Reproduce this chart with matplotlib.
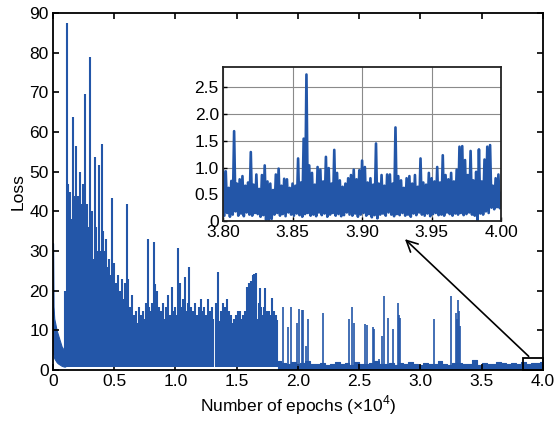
import numpy as np
import matplotlib.pyplot as plt
from matplotlib.patches import Rectangle

plt.rcParams['font.family'] = ['Liberation Sans', 'DejaVu Sans']
plt.rcParams['mathtext.fontset'] = 'custom'
plt.rcParams['mathtext.rm'] = 'Liberation Sans'

blue = '#2356a8'

# first 1000 epochs: fast decay
init_epochs = [0, 40, 100, 200, 300, 400, 500, 600, 700, 800, 900, 1000]
init_hi = [32, 16, 13, 11.5, 10, 9, 8, 7, 6, 5.5, 5, 4.5]
init_lo = [9, 4, 3, 2.5, 2, 1.7, 1.5, 1.3, 1.1, 1.0, 0.9, 0.9]

# unstable phase, peak of each burst
dense_epochs = [1000, 1120, 1200, 1300, 1400, 1500, 1630, 1700, 1850, 1950,
                2050, 2200, 2300, 2450, 2530, 2610, 2700, 2800, 2900, 2990,
                3100, 3200, 3300, 3430, 3550, 3650, 3730, 3850, 4000, 4100,
                4200, 4330, 4450, 4550, 4650, 4790, 4900, 5000, 5150, 5300,
                5450, 5600, 5750, 5900, 6010, 6150, 6300, 6450, 6600, 6750,
                6900, 7050, 7200, 7350, 7500, 7600, 7720, 7850, 8000, 8100,
                8210, 8350, 8500, 8650, 8800, 8950, 9100, 9250, 9400, 9550,
                9700, 9850, 10000, 10100, 10230, 10400, 10550, 10650, 10770, 10900,
                11000, 11130, 11300, 11450, 11600, 11750, 11900, 12050, 12200, 12350,
                12500, 12650, 12800, 12950, 13100, 13300, 13440, 13600, 13750, 13900,
                14050, 14200, 14350, 14500, 14650, 14800, 14950, 15100, 15250, 15400,
                15550, 15700, 15850, 16000, 16150, 16300, 16450, 16570, 16700, 16800,
                16900, 17000, 17100, 17200, 17300, 17450, 17600, 17750, 17900, 18050,
                18200, 18300]
dense_peaks = [20, 87.5, 47, 35, 45, 38, 63.7, 44, 56.5, 40,
               44, 50, 42, 47, 38, 69.7, 35, 42, 36, 79,
               33, 40, 28, 53.8, 36, 30, 51.6, 30, 57, 35,
               30, 33, 26, 28, 24, 43.5, 25, 27, 22, 24,
               20, 23, 18, 22, 42, 23, 16, 19, 14, 15,
               12, 16, 14, 15, 13, 17, 33, 16, 15, 17,
               32.3, 21.8, 20, 16, 15, 17, 13, 16, 18.9, 14,
               21, 15, 16, 14, 30.7, 22, 16, 18, 23.5, 15,
               17, 26, 16, 15, 17, 14, 16, 18, 15, 16,
               14, 18, 15, 16, 13, 17, 24.8, 12.5, 15, 17,
               16, 17.9, 15, 14, 12, 13, 14, 15, 15, 13,
               14, 15, 21, 22, 22.5, 24, 24.3, 24.5, 13, 17,
               20.6, 16, 14, 16, 20.6, 15, 15, 14, 18.1, 15,
               14, 12.6]
dense_floor = 0.9

# converged phase: noise band
base_epochs = np.arange(18400, 40001, 400)
base_hi = [2.2, 1.8, 1.6, 2.0, 1.5, 1.7, 2.3, 1.6, 1.5, 1.9,
           1.4, 1.6, 2.0, 1.5, 1.7, 1.4, 2.1, 1.6, 1.5, 1.8,
           2.4, 1.5, 1.6, 1.9, 1.4, 1.7, 1.5, 2.0, 1.6, 1.4,
           1.8, 1.5, 1.6, 2.2, 1.5, 1.4, 1.7, 1.9, 1.5, 1.6,
           2.5, 1.4, 1.8, 1.6, 1.5, 2.0, 1.7, 1.5, 1.9, 1.6,
           2.1, 1.5, 1.8, 1.7, 2.0]
base_lo = 0.3

# isolated spikes after convergence
sparse_epochs = [18740, 19200, 19470, 19880, 20100, 20290, 20430, 20650, 20800, 22080,
                 24180, 24450, 24550, 25470, 25600, 26130, 26200, 26600, 26900, 27020,
                 27350, 27770, 28180, 28280, 28370, 31120, 32530, 32940, 32990, 33080,
                 33150, 33210]
sparse_peaks = [16.0, 10.9, 16.0, 11.8, 15.5, 15.1, 15.1, 6.0, 12.8, 14.4,
                13.0, 15.8, 12.0, 11.7, 11.3, 10.8, 10.3, 2.9, 8.6, 18.7,
                13.1, 10.4, 16.8, 14.0, 13.2, 12.8, 18.7, 14.3, 13.0, 17.6,
                15.0, 11.0]

# zoom 38000-40000: local maxima every 20 epochs and minima in between
inset_peaks = [0.95, 0.93, 0.62, 0.75, 1.68, 0.70, 0.78, 0.84, 0.66, 0.72,
               1.29, 0.68, 0.87, 0.60, 0.86, 1.04, 0.74, 0.70, 0.58, 0.87,
               0.98, 0.66, 0.79, 0.78, 0.62, 0.70, 0.66, 1.17, 0.72, 1.54,
               2.74, 1.04, 0.90, 0.68, 1.01, 0.96, 0.74, 1.20, 0.99, 0.70,
               1.33, 0.90, 0.76, 0.64, 0.70, 0.80, 0.86, 0.96, 0.78, 0.95,
               1.13, 1.01, 0.72, 0.80, 0.68, 1.45, 0.70, 0.86, 0.66, 0.87,
               0.87, 0.70, 1.75, 0.84, 0.76, 0.62, 0.80, 0.84, 0.70, 0.86,
               0.64, 1.17, 0.72, 0.68, 0.90, 0.80, 0.74, 1.01, 0.72, 1.23,
               0.86, 0.78, 0.90, 0.74, 0.96, 1.39, 1.40, 1.14, 0.86, 1.31,
               0.76, 0.92, 1.34, 0.74, 1.15, 1.39, 1.42, 0.66, 0.80, 0.87,
               0.52]
inset_troughs = [0.10, 0.15, 0.08, 0.12, 0.18, 0.10, 0.14, 0.09, 0.16, 0.12,
                 0.10, 0.15, 0.13, 0.08, 0.11, 0.02, 0.00, 0.04, 0.12, 0.15,
                 0.10, 0.13, 0.09, 0.16, 0.12, 0.10, 0.14, 0.11, 0.08, 0.13,
                 0.15, 0.10, 0.12, 0.09, 0.16, 0.11, 0.14, 0.08, 0.12, 0.15,
                 0.10, 0.13, 0.09, 0.11, 0.16, 0.12, 0.10, 0.14, 0.08, 0.12,
                 0.15, 0.10, 0.13, 0.07, 0.11, 0.05, 0.12, 0.14, 0.10, 0.16,
                 0.12, 0.09, 0.13, 0.11, 0.15, 0.10, 0.12, 0.08, 0.14, 0.11,
                 0.16, 0.12, 0.10, 0.14, 0.09, 0.13, 0.15, 0.11, 0.12, 0.10,
                 0.16, 0.13, 0.10, 0.14, 0.12, 0.15, 0.11, 0.13, 0.16, 0.12,
                 0.10, 0.00, 0.14, 0.12, 0.18, 0.15, 0.25, 0.22, 0.26, 0.24]
inset_epochs = np.arange(38000, 40001, 10)
inset_loss = np.empty(len(inset_epochs))
inset_loss[0::2] = inset_peaks
inset_loss[1::2] = inset_troughs

fs = 12.5

fig = plt.figure(figsize=(5.58, 4.23), dpi=100)
ax = fig.add_axes([0.095, 0.125, 0.878, 0.844])

ax.fill_between(np.array(init_epochs) / 1e4, init_lo, init_hi, color=blue, lw=0.8, edgecolor=blue)
ax.vlines(np.array(dense_epochs) / 1e4, dense_floor, dense_peaks, color=blue, lw=1.5)
ax.fill_between(base_epochs / 1e4, base_lo, base_hi, step='mid', color=blue, lw=0.8, edgecolor=blue)
ax.vlines(np.array(sparse_epochs) / 1e4, 1.0, sparse_peaks, color=blue, lw=1.2)

ax.set_xlim(0, 4.0)
ax.set_ylim(0, 90)
ax.set_xticks(np.arange(0, 4.01, 0.5))
ax.set_xticklabels(['0'] + ['%.1f' % v for v in np.arange(0.5, 4.01, 0.5)])
ax.set_yticks(np.arange(0, 91, 10))
ax.tick_params(direction='in', top=True, right=True, length=4, width=1.2,
               labelsize=fs, pad=3)
for s in ax.spines.values():
    s.set_linewidth(1.3)
ax.set_xlabel(r'Number of epochs (×10$^\mathregular{4}$)', fontsize=fs, labelpad=3)
ax.set_ylabel('Loss', fontsize=fs, labelpad=3)

ax.add_patch(Rectangle((3.84, 0), 0.16, 3.0, fill=False, ec='k', lw=1.3,
                       clip_on=False, zorder=5))
ax.annotate('', xy=(2.857, 33.5), xytext=(3.9, 3.0),
            arrowprops=dict(arrowstyle='->', lw=1.2, color='k', mutation_scale=20))

ins = fig.add_axes([0.3996, 0.4775, 0.4986, 0.3641])
ins.plot(inset_epochs / 1e4, inset_loss, color=blue, lw=1.9)
ins.set_xlim(3.8, 4.0)
ins.set_ylim(0, 2.88)
ins.set_xticks([3.80, 3.85, 3.90, 3.95, 4.00])
ins.set_xticklabels(['3.80', '3.85', '3.90', '3.95', '4.00'])
ins.set_yticks([0, 0.5, 1.0, 1.5, 2.0, 2.5])
ins.set_yticklabels(['0', '0.5', '1.0', '1.5', '2.0', '2.5'])
ins.grid(True, color='#8a8a8a', lw=0.8)
ins.set_axisbelow(True)
ins.tick_params(direction='in', length=3, width=1.0, labelsize=fs, pad=3)
for s in ins.spines.values():
    s.set_linewidth(1.3)
    s.set_color('#222222')

fig.savefig('out.png', dpi=100)
